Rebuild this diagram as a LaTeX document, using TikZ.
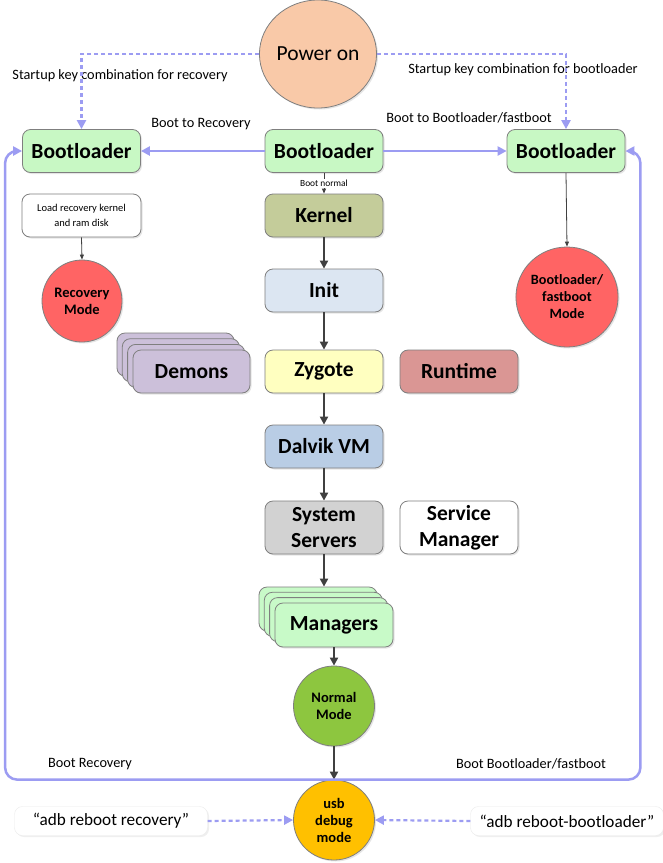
\documentclass[tikz,border=0pt]{standalone}
\usepackage{fontspec}
\setmainfont{Carlito}
\usetikzlibrary{arrows.meta,shapes.geometric,shadows}
\definecolor{pwr}{HTML}{F9C9A8}
\definecolor{grn}{HTML}{C8F8C4}
\definecolor{kern}{HTML}{C4CC9A}
\definecolor{initc}{HTML}{DCE6F2}
\definecolor{zyg}{HTML}{FFFFC0}
\definecolor{dal}{HTML}{B9CDE5}
\definecolor{sysc}{HTML}{D2D2D2}
\definecolor{dem}{HTML}{CCC0DA}
\definecolor{run}{HTML}{DA9694}
\definecolor{mgr}{HTML}{C8FAC8}
\definecolor{redm}{HTML}{FF6464}
\definecolor{nrm}{HTML}{8DC63F}
\definecolor{usbc}{HTML}{FFC000}
\definecolor{lblue}{HTML}{9C9CF2}
\definecolor{edge}{HTML}{7F7F7F}
\definecolor{dark}{HTML}{404040}
\tikzset{
  box/.style={draw=edge, rounded corners=8pt, line width=0.8pt, minimum width=118pt,
    minimum height=43pt, inner sep=0pt, align=center,
    font=\fontsize{21.5}{26}\selectfont\bfseries,
    drop shadow={opacity=0.2, shadow xshift=1.5pt, shadow yshift=-1.5pt}},
  ell/.style={ellipse, draw=edge, line width=0.8pt, inner sep=0pt, align=center,
    font=\fontsize{14.5}{17}\selectfont\bfseries,
    drop shadow={opacity=0.2, shadow xshift=1.5pt, shadow yshift=-1.5pt}},
  lbl/.style={font=\fontsize{14.3}{17}\selectfont, inner sep=1pt},
  flow/.style={draw=dark, line width=2pt, -{Triangle[length=8pt,width=8pt]}},
  thinarr/.style={draw=dark, line width=0.8pt, -{Triangle[length=5pt,width=4pt]}},
  bluearr/.style={draw=lblue, line width=2.5pt, -{Triangle[length=9pt,width=9pt]}},
  dashblue/.style={draw=lblue, line width=2.2pt, dash pattern=on 4pt off 3pt, -{Triangle[length=9pt,width=9pt]}},
  adb/.style={draw=black!8, rounded corners=8pt, fill=white, minimum width=193pt,
    minimum height=29pt, inner sep=0pt, font=\fontsize{17.2}{20}\selectfont,
    drop shadow={opacity=0.12, shadow xshift=1.5pt, shadow yshift=-1.5pt}}
}
\begin{document}
\begin{tikzpicture}[x=1pt,y=-1pt]
\useasboundingbox (0,0) rectangle (663,863);
\fill[white] (0,0) rectangle (663,863);

% Power on
\node[ell, fill=pwr, minimum width=107pt, minimum height=108pt,
  font=\fontsize{21.5}{25}\selectfont] (power) at (318,54) {Power on};

% Bootloaders
\node[box, fill=grn] (blL) at (81.5,151) {Bootloader};
\node[box, fill=grn] (blC) at (324,151) {Bootloader};
\node[box, fill=grn] (blR) at (566,151) {Bootloader};

% main column
\node[box, fill=kern] (kernel) at (324,215.5) {Kernel};
\node[box, fill=initc] (init) at (324,290.5) {Init};
\node[box, fill=zyg] (zygote) at (324,371.5) {Zygote};
\node[box, fill=dal] (dalvik) at (324,446.5) {Dalvik VM};
\node[box, fill=sysc, minimum height=53pt] (sys) at (324,527.5) {System\\Servers};

% side boxes
\node[box, fill=run] (runtime) at (459,371.5) {Runtime};
\node[box, fill=white, minimum height=53pt] (svc) at (459,527.5) {Service\\Manager};

% Demons stack
\node[box, fill=dem, minimum width=117pt] (demC) at (175.5,354.5) {};
\node[box, fill=dem, minimum width=117pt] (demB) at (180.8,360.2) {};
\node[box, fill=dem, minimum width=117pt] (demA) at (186.1,365.9) {};
\node[box, fill=dem, minimum width=117pt] (demons) at (191.5,371.5) {Demons};

% Managers stack
\node[box, fill=mgr, minimum width=118pt, minimum height=44pt] (mgrC) at (318,609) {};
\node[box, fill=mgr, minimum width=118pt, minimum height=44pt] (mgrB) at (323.3,614.3) {};
\node[box, fill=mgr, minimum width=118pt, minimum height=44pt] (mgrA) at (328.6,619.6) {};
\node[box, fill=mgr, minimum width=118pt, minimum height=44pt] (mgr) at (334,625) {Managers};

% recovery side
\node[box, fill=white, minimum width=119pt, font=\fontsize{10.5}{15}\selectfont] (load) at (81.5,215.5) {Load recovery kernel\\and ram disk};
\node[ell, fill=redm, minimum width=80pt, minimum height=82pt] (rec) at (82,301) {Recovery\\Mode};
\node[ell, fill=redm, minimum width=100pt, minimum height=100pt, font=\fontsize{14.2}{17}\selectfont\bfseries] (fb) at (567,297) {Bootloader/\\fastboot\\Mode};

% normal / usb
\node[ell, fill=nrm, minimum width=81pt, minimum height=80pt] (normal) at (334,706) {Normal\\Mode};
\node[ell, fill=usbc, minimum width=81pt, minimum height=80pt] (usb) at (334,820) {usb\\debug\\mode};

% adb boxes
\node[adb] (adbL) at (111,821) {“adb reboot recovery”};
\node[adb] (adbR) at (567,821) {“adb reboot-bootloader”};

% labels
\node[lbl] (l1) at (120,76) {Startup key combination for recovery};
\node[lbl] (l2) at (523,70) {Startup key combination for bootloader};
\node[lbl] (l3) at (201,124) {Boot to Recovery};
\node[lbl] (l4) at (469,118) {Boot to Bootloader/fastboot};
\node[lbl] (l5) at (90,764) {Boot Recovery};
\node[lbl] (l6) at (531,764) {Boot Bootloader/fastboot};

% connectors
\draw[dashblue] (power.west) -| (blL.north);
\draw[dashblue] (power.east) -| (blR.north);
\draw[bluearr] (blC.west) -- (blL.east);
\draw[bluearr] (blC.east) -- (blR.west);
\draw[thinarr] (blC.south) -- (kernel.north)
  node[midway, fill=white, inner sep=1pt, font=\fontsize{9.4}{10}\selectfont] {Boot normal};
\draw[flow] (kernel.south) -- (init.north);
\draw[flow] (init.south) -- (zygote.north);
\draw[flow] (zygote.south) -- (dalvik.north);
\draw[flow] (dalvik.south) -- (sys.north);
\draw[flow] (sys.south) -- (sys.south |- mgrC.north);
\draw[flow] (mgr.south) -- (normal.north);
\draw[flow] (normal.south) -- (usb.north);
\draw[thinarr] (load.south) -- (rec.north);
\draw[thinarr] (blR.south) -- (fb.north);
\draw[bluearr, rounded corners=12pt] (usb.north) -| ([xshift=-17pt]blL.west) -- (blL.west);
\draw[bluearr, rounded corners=12pt] (usb.north) -| ([xshift=15pt]blR.east) -- (blR.east);
\draw[dashblue] (adbL.east) -- (usb.west);
\draw[dashblue] (adbR.west) -- (usb.east);
\end{tikzpicture}
\end{document}
